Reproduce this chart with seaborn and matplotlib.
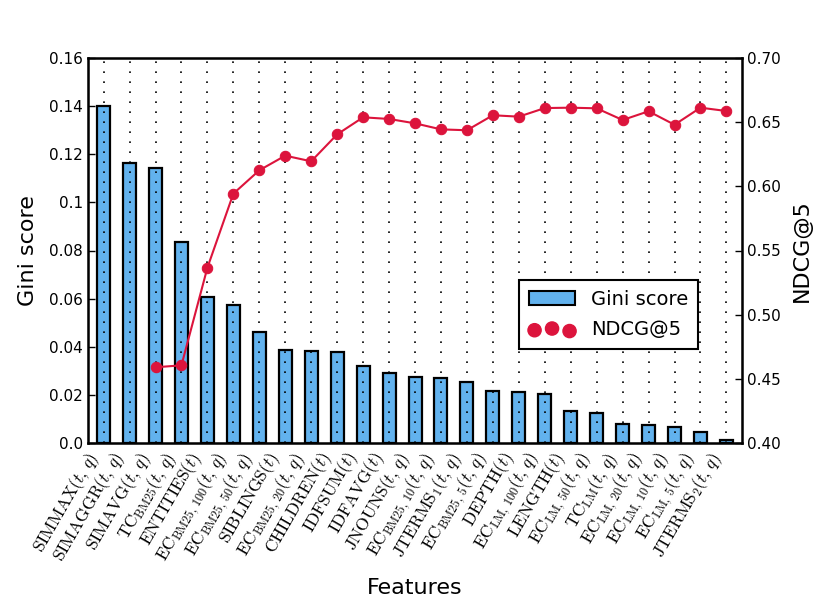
import numpy as np
import pandas as pd
import matplotlib
matplotlib.use("Agg")
import matplotlib.pyplot as plt
from matplotlib.patches import Patch
import seaborn as sns

# Feature names (mathtext) and their scores
features = [
    r"$\mathrm{SIMMAX}(t,\,q)$",
    r"$\mathrm{SIMAGGR}(t,\,q)$",
    r"$\mathrm{SIMAVG}(t,\,q)$",
    r"$\mathrm{TC}_{\mathrm{BM25}}(t,\,q)$",
    r"$\mathrm{ENTITIES}(t)$",
    r"$\mathrm{EC}_{\mathrm{BM25,\,100}}(t,\,q)$",
    r"$\mathrm{EC}_{\mathrm{BM25,\,50}}(t,\,q)$",
    r"$\mathrm{SIBLINGS}(t)$",
    r"$\mathrm{EC}_{\mathrm{BM25,\,20}}(t,\,q)$",
    r"$\mathrm{CHILDREN}(t)$",
    r"$\mathrm{IDFSUM}(t)$",
    r"$\mathrm{IDFAVG}(t)$",
    r"$\mathrm{JNOUNS}(t,\,q)$",
    r"$\mathrm{EC}_{\mathrm{BM25,\,10}}(t,\,q)$",
    r"$\mathrm{JTERMS}_1(t,\,q)$",
    r"$\mathrm{EC}_{\mathrm{BM25,\,5}}(t,\,q)$",
    r"$\mathrm{DEPTH}(t)$",
    r"$\mathrm{EC}_{\mathrm{LM,\,100}}(t,\,q)$",
    r"$\mathrm{LENGTH}(t)$",
    r"$\mathrm{EC}_{\mathrm{LM,\,50}}(t,\,q)$",
    r"$\mathrm{TC}_{\mathrm{LM}}(t,\,q)$",
    r"$\mathrm{EC}_{\mathrm{LM,\,20}}(t,\,q)$",
    r"$\mathrm{EC}_{\mathrm{LM,\,10}}(t,\,q)$",
    r"$\mathrm{EC}_{\mathrm{LM,\,5}}(t,\,q)$",
    r"$\mathrm{JTERMS}_2(t,\,q)$",
]
gini = [0.1401, 0.1164, 0.1144, 0.0837, 0.0608, 0.0575, 0.0463, 0.0386,
        0.0383, 0.0377, 0.0320, 0.0290, 0.0276, 0.0272, 0.0253, 0.0216,
        0.0210, 0.0204, 0.0134, 0.0126, 0.0080, 0.0076, 0.0066, 0.0046,
        0.0012]
ndcg = [np.nan, np.nan, 0.459, 0.4605, 0.5366, 0.5943, 0.6125, 0.6239,
        0.6195, 0.6405, 0.6538, 0.6525, 0.6491, 0.6444, 0.6437, 0.6554,
        0.6543, 0.6610, 0.6613, 0.6608, 0.6517, 0.6585, 0.6480, 0.6613,
        0.6587]
left_ticks = ["0.0", "0.02", "0.04", "0.06", "0.08", "0.1", "0.12", "0.14", "0.16"]

plt.rcParams["mathtext.fontset"] = "cm"
plt.rcParams["font.family"] = "DejaVu Sans"

data = pd.DataFrame({"feature": features, "gini": gini, "ndcg": ndcg,
                     "pos": np.arange(len(features))})

fig = plt.figure(figsize=(8.25, 6), dpi=100)
ax = fig.add_axes([0.1067, 0.2617, 0.7927, 0.6416])

sns.barplot(data=data, x="feature", y="gini", color="#62b2ee", width=0.5,
            edgecolor="black", linewidth=1.6, saturation=1, ax=ax)
ax.set_xlim(-0.6, len(features) - 0.4)
ax.set_ylim(0, 0.16)
ax.set_yticks(np.linspace(0, 0.16, 9))
ax.set_yticklabels(left_ticks, fontsize=11)
ax.set_xticks(range(len(features)))
ax.set_xticklabels(features, rotation=60, ha="right", fontsize=12.5)
ax.tick_params(axis="x", length=0, pad=4)
ax.tick_params(axis="y", direction="in", length=5, width=1)
ax.grid(axis="x", linestyle=(0, (1, 5)), color="black", linewidth=1.2)
ax.set_axisbelow(False)
ax.set_xlabel("Features", fontsize=16, labelpad=8)
ax.set_ylabel("Gini score", fontsize=16, labelpad=8)
for s in ax.spines.values():
    s.set_linewidth(1.8)

ax2 = ax.twinx()
sns.lineplot(data=data, x="pos", y="ndcg", color="#dc143c", marker="o",
             markersize=7.5, markeredgecolor="#dc143c", linewidth=1.5, ax=ax2)
ax2.set_ylim(0.40, 0.70)
ax2.set_yticks(np.arange(0.40, 0.701, 0.05))
ax2.set_yticklabels([f"{v:.2f}" for v in np.arange(0.40, 0.701, 0.05)], fontsize=11)
ax2.tick_params(axis="y", direction="in", length=5, width=1)
ax2.set_ylabel("NDCG@5", fontsize=16, labelpad=8)
ax2.set_xlim(-0.6, len(features) - 0.4)

# legend proxies
bar_proxy = Patch(facecolor="#62b2ee", edgecolor="black", linewidth=1.5)
dot_proxy = ax2.scatter([], [], s=90, color="#dc143c")
leg = ax2.legend([bar_proxy, dot_proxy], ["Gini score", "NDCG@5"],
                 loc="lower left", bbox_to_anchor=(0.659, 0.244), borderaxespad=0,
                 fontsize=14, scatterpoints=3, fancybox=False, framealpha=1,
                 edgecolor="black", borderpad=0.5, labelspacing=0.6,
                 handlelength=2.4)
leg.get_frame().set_linewidth(1.5)

fig.savefig("out.png", dpi=100)
